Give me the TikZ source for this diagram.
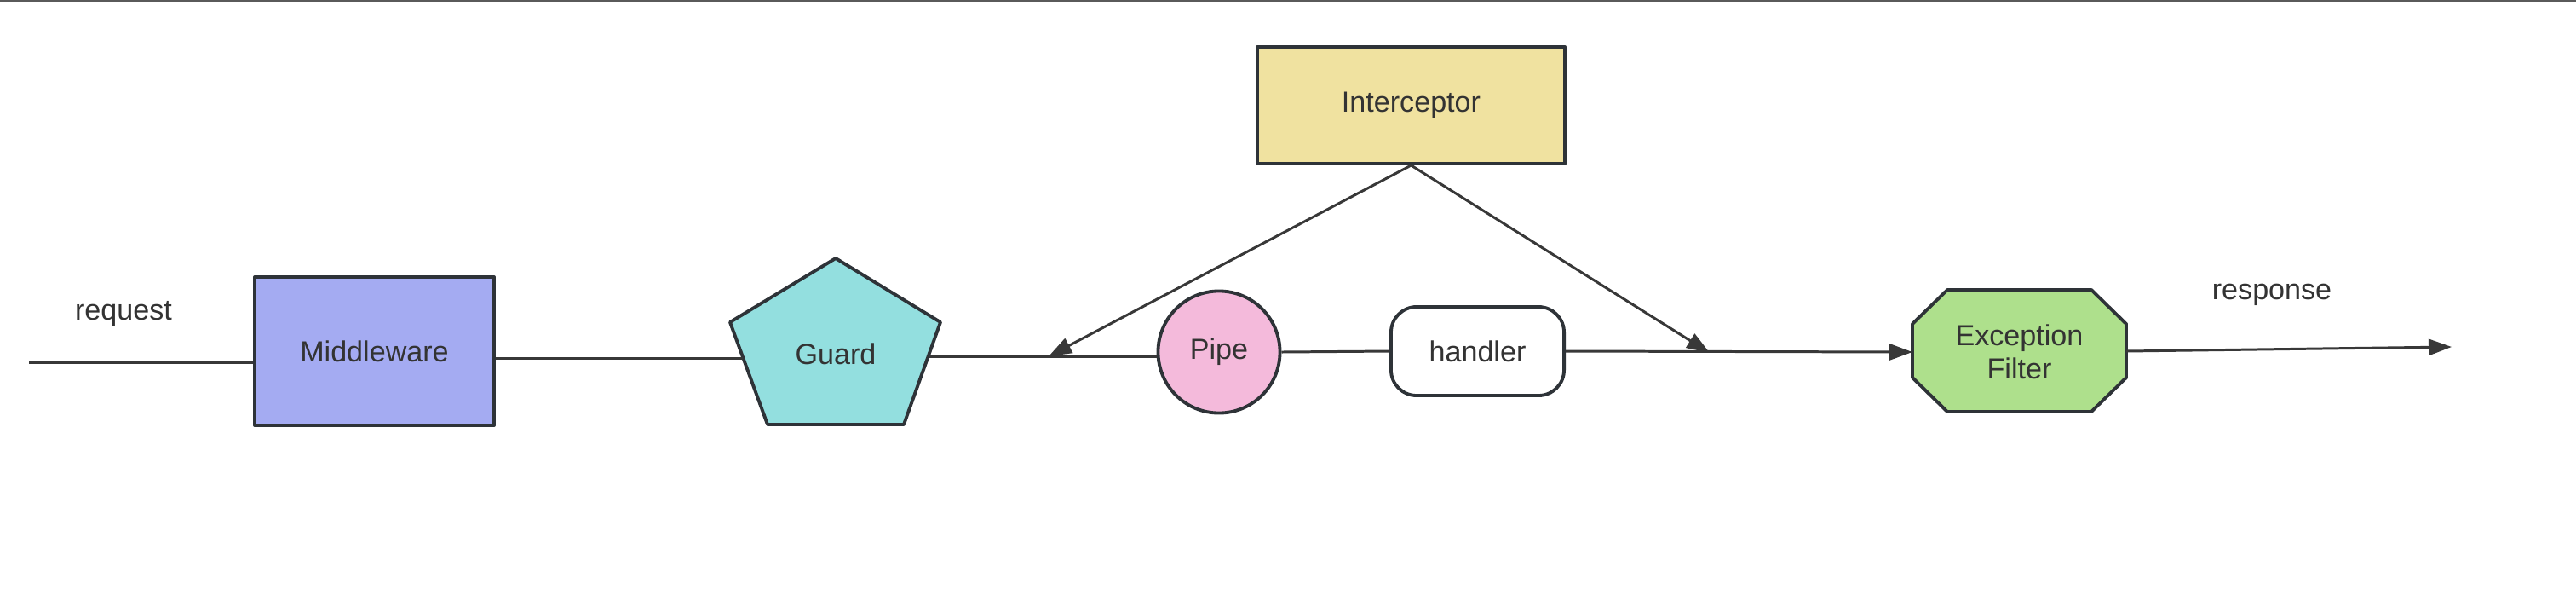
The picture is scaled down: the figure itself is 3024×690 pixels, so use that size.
\documentclass[tikz,border=0pt]{standalone}
\usepackage{fontspec}
\setmainfont{Liberation Sans}
\usetikzlibrary{arrows.meta}
\definecolor{mwfill}{HTML}{A4ABF2}
\definecolor{guardfill}{HTML}{93DFDF}
\definecolor{pipefill}{HTML}{F4BADB}
\definecolor{intfill}{HTML}{F0E2A0}
\definecolor{effill}{HTML}{AEE08C}
\definecolor{bordercol}{HTML}{2E3338}
\definecolor{linecol}{HTML}{383838}
\definecolor{textcol}{HTML}{333333}
\definecolor{topcol}{HTML}{5A5A5A}
\newcommand\diaglbl{\fontsize{9.7}{11.2}\selectfont}
\begin{document}
\begin{tikzpicture}[x=0.01cm,y=-0.01cm,
  shapeline/.style={draw=bordercol, line width=1.1pt, line join=round},
  box/.style={shapeline, text=textcol, font=\diaglbl},
  lbltext/.style={text=textcol, font=\diaglbl, inner sep=0pt},
  conn/.style={draw=linecol, line width=0.85pt},
  arr/.style={conn, -{Triangle[length=0.27cm,width=0.19cm]}}]
\useasboundingbox (0,0) rectangle (3024,690);
% top border
\draw[topcol, line width=0.6pt] (0,1) -- (3024,1);

% nodes
\node[box, fill=mwfill, minimum width=2.81cm, minimum height=1.74cm] (mw) at (439.5,412) {Middleware};
\node[box, fill=intfill, minimum width=3.61cm, minimum height=1.37cm] (int) at (1656.5,123.5) {Interceptor};
\node[box, fill=pipefill, circle, minimum size=1.43cm, inner sep=0pt] (pipe) at (1431,413) {Pipe};
\node[box, fill=white, rounded corners=0.3cm, minimum width=2.03cm, minimum height=1.04cm] (handler) at (1734.5,412) {handler};

% Guard pentagon
\coordinate (g1) at (981,303);
\coordinate (g2) at (1104,378);
\coordinate (g3) at (1061,498);
\coordinate (g4) at (901,498);
\coordinate (g5) at (857,378);
\draw[shapeline, fill=guardfill] (g1) -- (g2) -- (g3) -- (g4) -- (g5) -- cycle;
\node[lbltext] (guard) at (981,415) {Guard};
\coordinate (gL) at (872,420);
\coordinate (gR) at (1090,418);

% Exception filter octagon
\draw[shapeline, fill=effill] (2286,340) -- (2455,340) -- (2496,380) -- (2496,443) -- (2455,483) -- (2286,483) -- (2245,443) -- (2245,380) -- cycle;
\node[lbltext, align=center] (ef) at (2370.5,413) {Exception\\Filter};
\coordinate (efL) at (2245,413);
\coordinate (efR) at (2496,412);

% free ends
\coordinate (req) at (34,425);
\coordinate (resp) at (2878,407);
\coordinate (iL) at (1231,418);
\coordinate (iR) at (2007,414);

% labels
\node[lbltext] (reqlbl) at (145,368) {request};
\node[lbltext] (resplbl) at (2667,346) {response};

% connectors
\draw[conn] (req) -- (req -| mw.west);
\draw[conn] (mw.east |- gL) -- (gL);
\draw[conn] (gR) -- (gR -| pipe.west);
\draw[conn] (pipe.east) -- (handler.west);
\draw[arr] (handler.east) -- (efL);
\draw[arr] (efR) -- (resp);
\draw[arr] (int.south) -- (iL);
\draw[arr] (int.south) -- (iR);
\end{tikzpicture}
\end{document}
